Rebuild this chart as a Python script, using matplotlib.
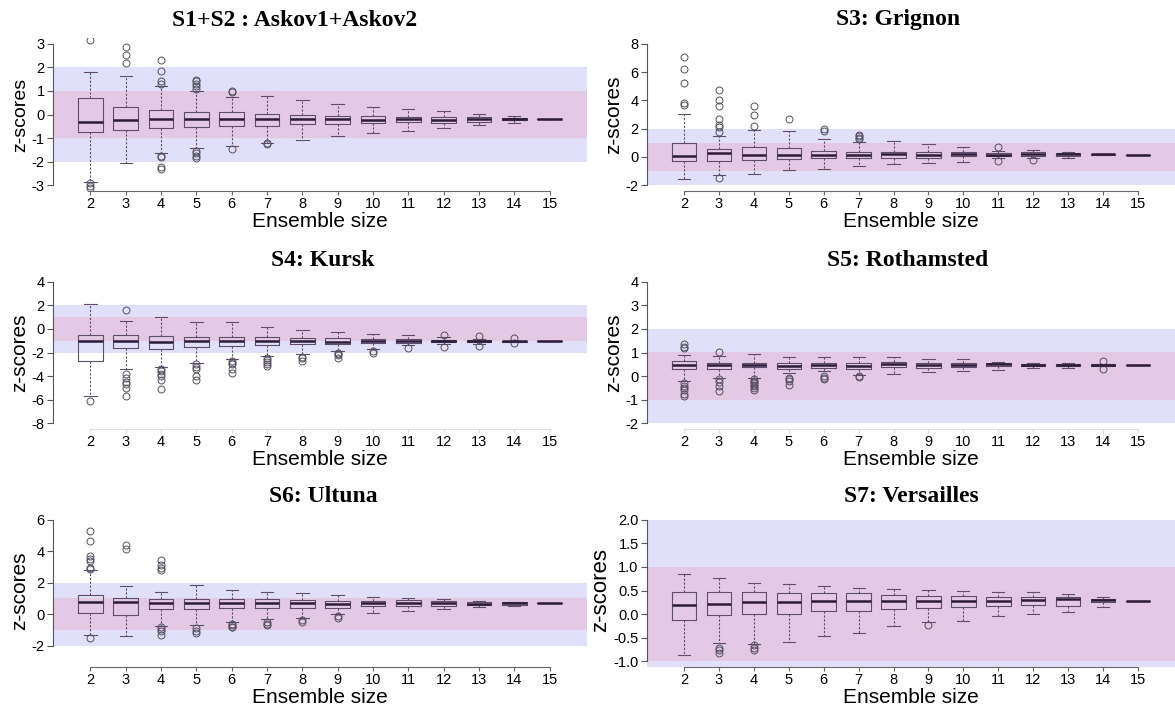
import numpy as np
import matplotlib.pyplot as plt
from matplotlib.ticker import FormatStrFormatter

plt.rcParams['font.family'] = ['Liberation Sans', 'DejaVu Sans']
plt.rcParams['axes.unicode_minus'] = False

sizes = list(range(2, 16))

# S1+S2 : Askov1+Askov2
askov_med = [-0.32, -0.23, -0.21, -0.21, -0.21, -0.21, -0.21, -0.18, -0.23, -0.17, -0.23, -0.18, -0.21, -0.21]
askov_q1 = [-0.75, -0.65, -0.56, -0.51, -0.50, -0.47, -0.42, -0.42, -0.38, -0.31, -0.35, -0.30, -0.25, -0.21]
askov_q3 = [0.71, 0.31, 0.17, 0.10, 0.10, 0.03, 0.00, -0.06, -0.07, -0.10, -0.11, -0.10, -0.16, -0.21]
askov_lo = [-2.84, -2.05, -1.62, -1.43, -1.34, -1.21, -1.07, -0.93, -0.79, -0.68, -0.58, -0.44, -0.34, -0.21]
askov_hi = [1.82, 1.62, 1.21, 0.99, 0.75, 0.79, 0.62, 0.45, 0.31, 0.24, 0.14, 0.03, -0.08, -0.21]
askov_out = [[3.15, -2.92, -3.02, -3.10], [2.2, 2.5, 2.85], [2.32, 1.84, 1.40, 1.30, -1.74, -1.80, -2.23, -2.30],
             [1.47, 1.40, 1.30, 1.20, 1.10, -1.55, -1.65, -1.75, -1.84], [0.99, 0.95, -1.45],
             [-1.20, -1.27], [], [], [], [], [], [], [], []]

# S3: Grignon
grig_med = [0.07, 0.31, 0.17, 0.17, 0.14, 0.17, 0.19, 0.17, 0.21, 0.17, 0.21, 0.19, 0.19, 0.17]
grig_q1 = [-0.29, -0.29, -0.21, -0.14, -0.10, -0.05, -0.05, -0.05, 0.05, 0.07, 0.07, 0.07, 0.14, 0.17]
grig_q3 = [1.02, 0.55, 0.74, 0.67, 0.43, 0.38, 0.38, 0.38, 0.33, 0.29, 0.36, 0.31, 0.21, 0.17]
grig_lo = [-1.52, -1.24, -1.17, -0.93, -0.83, -0.64, -0.52, -0.45, -0.38, -0.10, -0.05, -0.05, 0.12, 0.17]
grig_hi = [3.05, 1.50, 1.93, 1.81, 1.24, 1.05, 1.10, 0.95, 0.74, 0.40, 0.48, 0.36, 0.24, 0.17]
grig_out = [[7.05, 6.2, 5.2, 3.8, 3.7], [4.7, 4.05, 3.57, 2.7, 2.29, 2.1, 1.8, -1.48], [3.57, 3.0, 2.19],
            [2.71], [1.98, 1.86], [1.55, 1.45, 1.35, 1.24], [], [], [], [0.71, -0.29], [-0.24], [], [], []]

# S4: Kursk
kursk_med = [-1.00, -1.00, -1.09, -1.06, -1.06, -1.06, -1.06, -1.09, -1.06, -1.03, -1.06, -1.06, -1.06, -1.03]
kursk_q1 = [-2.71, -1.66, -1.71, -1.57, -1.49, -1.37, -1.29, -1.26, -1.23, -1.17, -1.14, -1.14, -1.12, -1.03]
kursk_q3 = [-0.49, -0.49, -0.57, -0.66, -0.66, -0.66, -0.77, -0.80, -0.83, -0.86, -0.91, -0.94, -1.00, -1.03]
kursk_lo = [-5.66, -3.43, -3.20, -2.86, -2.57, -2.29, -2.14, -1.86, -1.71, -1.34, -1.29, -1.26, -1.12, -1.03]
kursk_hi = [2.14, 0.63, 1.00, 0.57, 0.57, 0.20, -0.09, -0.29, -0.43, -0.49, -0.71, -0.86, -1.00, -1.03]
kursk_out = [[-6.09], [1.63, -3.86, -4.2, -4.5, -4.7, -5.0, -5.71], [-3.43, -3.6, -3.8, -4.0, -4.29, -5.06],
             [-3.0, -3.2, -3.43, -4.0, -4.34], [-2.71, -2.86, -3.0, -3.43, -3.71],
             [-2.43, -2.6, -2.8, -3.0, -3.14], [-2.34, -2.5, -2.71], [-2.0, -2.1, -2.2, -2.43],
             [-1.9, -2.06], [-1.66], [-0.49, -1.51], [-0.57, -1.43], [-0.80, -1.20], []]

# S5: Rothamsted
roth_med = [0.46, 0.46, 0.49, 0.43, 0.46, 0.43, 0.50, 0.46, 0.49, 0.50, 0.47, 0.46, 0.47, 0.47]
roth_q1 = [0.29, 0.31, 0.40, 0.31, 0.33, 0.31, 0.39, 0.36, 0.39, 0.43, 0.41, 0.43, 0.44, 0.47]
roth_q3 = [0.64, 0.57, 0.54, 0.57, 0.57, 0.57, 0.60, 0.57, 0.57, 0.57, 0.51, 0.50, 0.50, 0.47]
roth_lo = [-0.21, -0.07, -0.07, 0.14, 0.20, 0.03, 0.11, 0.17, 0.21, 0.24, 0.33, 0.34, 0.44, 0.47]
roth_hi = [0.90, 0.86, 0.93, 0.83, 0.83, 0.83, 0.80, 0.71, 0.71, 0.60, 0.54, 0.57, 0.50, 0.47]
roth_out = [[1.36, 1.25, 1.20, -0.30, -0.40, -0.50, -0.60, -0.75, -0.86], [1.04, -0.14, -0.25, -0.40, -0.61],
            [-0.14, -0.20, -0.25, -0.30, -0.36, -0.42, -0.50, -0.57], [-0.07, -0.14, -0.20, -0.36],
            [0.00, -0.06, -0.11], [0.00, -0.03], [], [], [], [], [], [], [0.64, 0.29], []]

# S6: Ultuna
ult_med = [0.78, 0.74, 0.72, 0.72, 0.68, 0.72, 0.68, 0.65, 0.68, 0.72, 0.68, 0.65, 0.68, 0.68]
ult_q1 = [0.10, -0.06, 0.30, 0.30, 0.36, 0.40, 0.40, 0.42, 0.53, 0.53, 0.53, 0.57, 0.57, 0.68]
ult_q3 = [1.20, 1.03, 0.99, 0.93, 0.93, 0.93, 0.89, 0.82, 0.82, 0.89, 0.82, 0.74, 0.76, 0.68]
ult_lo = [-1.33, -1.39, -0.76, -0.70, -0.49, -0.34, -0.27, -0.02, 0.04, 0.19, 0.32, 0.46, 0.50, 0.68]
ult_hi = [2.83, 1.77, 1.41, 1.84, 1.56, 1.41, 1.31, 1.20, 1.10, 1.05, 0.95, 0.82, 0.80, 0.68]
ult_out = [[5.25, 4.62, 3.67, 3.5, 3.4, 2.95, 2.85, -1.54], [4.37, 4.16],
           [3.42, 3.1, 2.9, 2.8, -0.8, -0.95, -1.1, -1.33], [-0.9, -1.05, -1.22],
           [-0.6, -0.7, -0.8, -0.85], [-0.49, -0.6, -0.7], [-0.38, -0.49], [-0.11, -0.23],
           [], [], [], [], [], []]

# S7: Versailles
vers_med = [0.20, 0.21, 0.26, 0.25, 0.27, 0.27, 0.27, 0.27, 0.27, 0.27, 0.29, 0.31, 0.29, 0.27]
vers_q1 = [-0.12, -0.01, 0.01, 0.01, 0.06, 0.06, 0.11, 0.14, 0.16, 0.18, 0.20, 0.18, 0.25, 0.27]
vers_q3 = [0.47, 0.46, 0.46, 0.44, 0.44, 0.44, 0.40, 0.39, 0.38, 0.36, 0.37, 0.36, 0.31, 0.27]
vers_lo = [-0.86, -0.62, -0.64, -0.59, -0.46, -0.39, -0.25, -0.17, -0.14, -0.05, 0.01, 0.04, 0.16, 0.27]
vers_hi = [0.84, 0.76, 0.66, 0.63, 0.59, 0.56, 0.54, 0.52, 0.49, 0.46, 0.46, 0.43, 0.37, 0.27]
vers_out = [[], [-0.71, -0.77, -0.83], [-0.66, -0.72, -0.76], [], [], [], [], [-0.23],
            [], [], [], [], [], []]

BLUE = '#e1e0fa'
PINK = '#e3c9e4'
EDGE = '#5e4e6c'
MED = '#2c1c38'

fig = plt.figure(figsize=(11.75, 7.06), dpi=100)

W, H = 1175, 706


def rect(x0, x1, y0, y1):
    # pixel box -> figure fraction
    return [x0 / W, 1 - y1 / H, (x1 - x0) / W, (y1 - y0) / H]


def panel(box, med, q1, q3, lo, hi, out, ylim, yticks, fmt, xaxis_col, ylab_size):
    ax = fig.add_axes(box)
    stats = []
    for i in range(len(sizes)):
        stats.append(dict(med=med[i], q1=q1[i], q3=q3[i], whislo=lo[i],
                          whishi=hi[i], fliers=out[i]))
    # +/-2 and +/-1 z-score bands
    ax.axhspan(-2, 2, color=BLUE, lw=0, zorder=0)
    ax.axhspan(-1, 1, color=PINK, lw=0, zorder=0)
    ax.bxp(stats, positions=range(1, len(sizes) + 1), widths=0.7,
           capwidths=0.35, showfliers=True,
           boxprops=dict(color=EDGE, lw=0.8),
           medianprops=dict(color=MED, lw=1.8),
           whiskerprops=dict(color=EDGE, lw=0.8, linestyle=(0, (2, 1.5))),
           capprops=dict(color=EDGE, lw=0.8),
           flierprops=dict(marker='o', markersize=5, markerfacecolor='none',
                           markeredgecolor='#555060', markeredgewidth=0.7))
    ax.set_xlim(-0.06, len(sizes) + 1.06)
    ax.set_ylim(*ylim)
    ax.set_xticks(range(1, len(sizes) + 1))
    ax.set_xticklabels([str(s) for s in sizes])
    ax.set_yticks(yticks)
    ax.yaxis.set_major_formatter(FormatStrFormatter(fmt))
    ax.set_facecolor('none')
    for s in ['top', 'right']:
        ax.spines[s].set_visible(False)
    ax.spines['left'].set_bounds(yticks[0], yticks[-1])
    ax.spines['bottom'].set_bounds(1, len(sizes))
    ax.spines['left'].set_color('#555555')
    ax.spines['bottom'].set_color(xaxis_col)
    ax.spines['left'].set_linewidth(0.8)
    ax.spines['bottom'].set_linewidth(0.8)
    ax.tick_params(axis='y', length=4, width=0.8, color='#555555', labelsize=10.5, pad=2)
    ax.tick_params(axis='x', length=3, width=0.8, color=xaxis_col, labelsize=10.5, pad=1)
    ax.set_xlabel('Ensemble size', fontsize=15, labelpad=1)
    ax.set_ylabel('z-scores', fontsize=ylab_size, labelpad=2)
    return ax


LX = (53, 587)
RX = (647, 1175)
R1 = (38, 191)
R2 = (276, 429)
R3 = (514, 667)

panel(rect(*LX, *R1), askov_med, askov_q1, askov_q3, askov_lo, askov_hi, askov_out,
      (-3.24, 3.24), list(range(-3, 4)), '%d', '#666666', 14)
panel(rect(*RX, *R1), grig_med, grig_q1, grig_q3, grig_lo, grig_hi, grig_out,
      (-2.4, 8.4), list(range(-2, 9, 2)), '%d', '#666666', 15)
panel(rect(*LX, *R2), kursk_med, kursk_q1, kursk_q3, kursk_lo, kursk_hi, kursk_out,
      (-8.48, 4.48), list(range(-8, 5, 2)), '%d', '#dddddd', 15)
panel(rect(*RX, *R2), roth_med, roth_q1, roth_q3, roth_lo, roth_hi, roth_out,
      (-2.24, 4.24), list(range(-2, 5)), '%d', '#dddddd', 15)
panel(rect(*LX, *R3), ult_med, ult_q1, ult_q3, ult_lo, ult_hi, ult_out,
      (-3.36, 6.36), list(range(-2, 7, 2)), '%d', '#666666', 15)
panel(rect(*RX, *R3), vers_med, vers_q1, vers_q3, vers_lo, vers_hi, vers_out,
      (-1.12, 2.12), list(np.arange(-1.0, 2.01, 0.5)), '%.1f', '#666666', 16)

titles = [('S1+S2 : Askov1+Askov2', 295, 20), ('S3: Grignon', 898, 20),
          ('S4: Kursk', 323, 260), ('S5: Rothamsted', 908, 260),
          ('S6: Ultuna', 323, 497), ('S7: Versailles', 911, 497)]
for t, x, y in titles:
    fig.text(x / W, 1 - y / H, t, ha='center', va='center', fontsize=17,
             fontweight='bold', family=['Liberation Serif', 'DejaVu Serif'])

fig.savefig('out.png', dpi=100)
